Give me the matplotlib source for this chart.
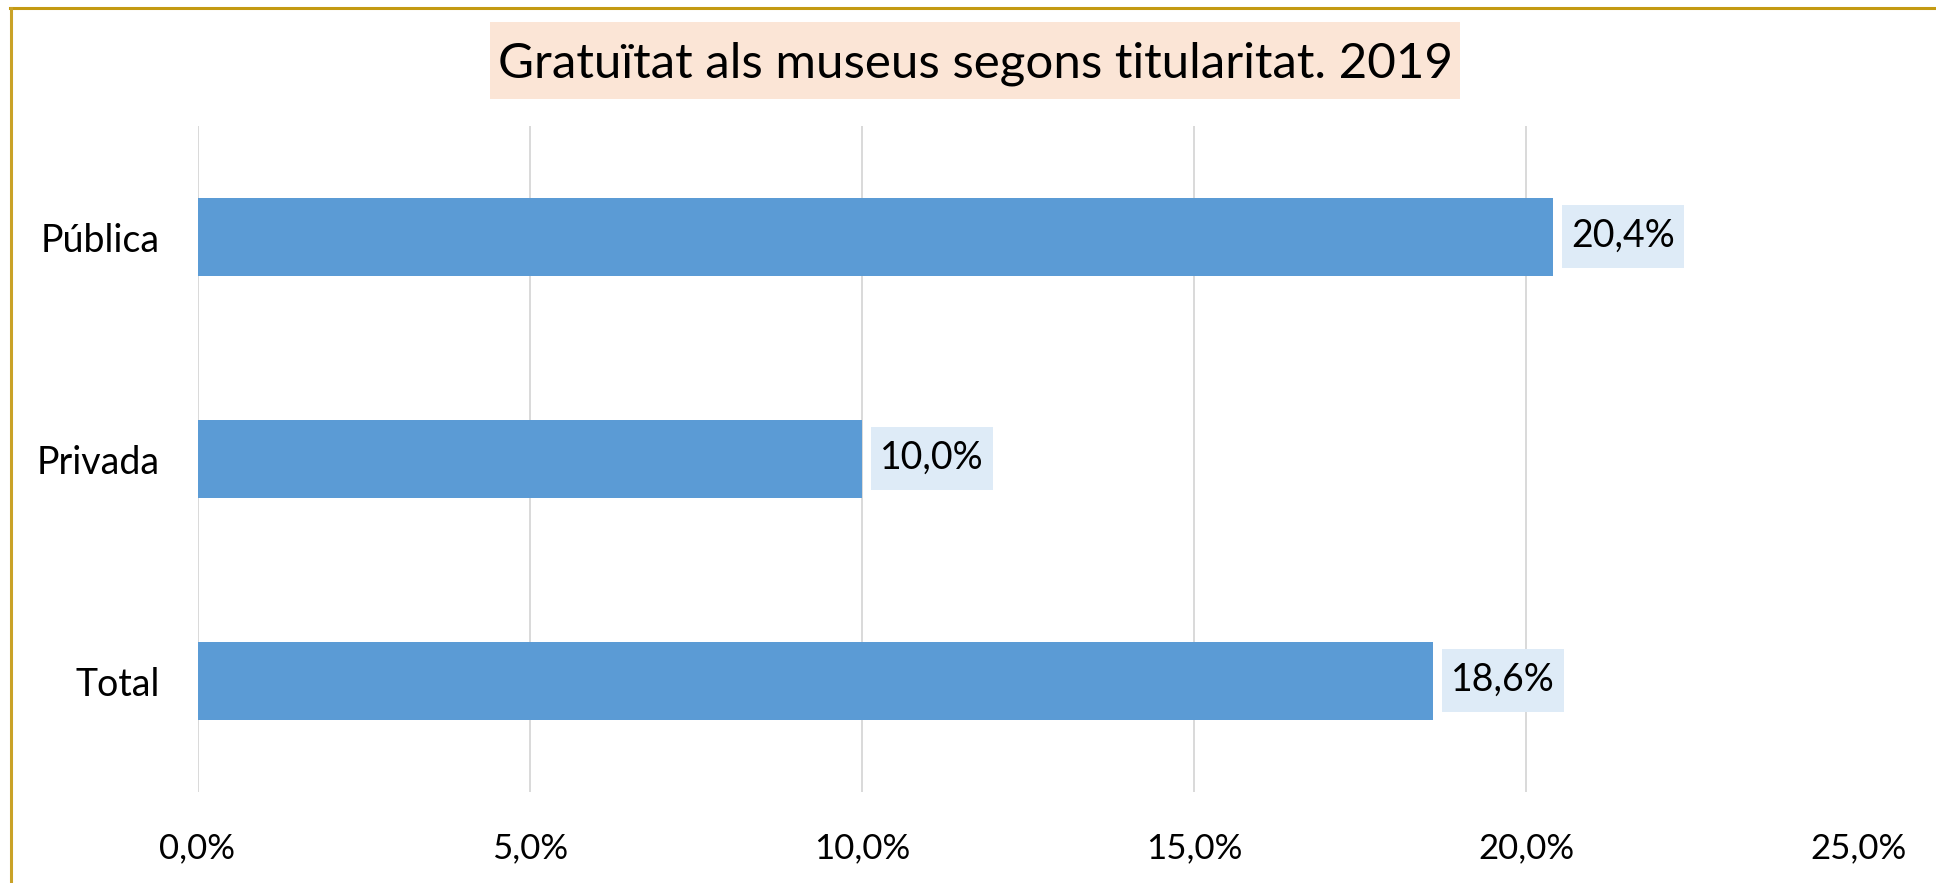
import matplotlib
matplotlib.use("Agg")
import matplotlib.pyplot as plt
from matplotlib.patches import Rectangle
from matplotlib.lines import Line2D
from matplotlib.path import Path

categories = ["Pública", "Privada", "Total"]
values = [20.4, 10.0, 18.6]
value_labels = ["20,4%", "10,0%", "18,6%"]
xticks = [0, 5, 10, 15, 20, 25]
xtick_labels = ["0,0%", "5,0%", "10,0%", "15,0%", "20,0%", "25,0%"]
title = "Gratuïtat als museus segons titularitat. 2019"

W, H = 1936, 883
DPI = 100
plt.rcParams['font.family'] = ['Lato', 'DejaVu Sans']

fig = plt.figure(figsize=(W / DPI, H / DPI), dpi=DPI)
fig.patch.set_facecolor("white")

def fx(px):
    return px / W

def fy(py):
    return 1 - py / H

ax_l, ax_r, ax_t, ax_b = 197.5, 1858.5, 126, 792
ax = fig.add_axes([fx(ax_l), fy(ax_b), fx(ax_r - ax_l), (ax_b - ax_t) / H])

ypos = list(range(len(categories)))
ax.barh(ypos, values, height=0.35, color="#5B9BD5", zorder=3)
ax.set_xlim(0, 25)
ax.set_ylim(len(categories) - 0.5, -0.5)
ax.set_xticks(xticks)
ax.set_xticklabels(xtick_labels)
ax.set_yticks(ypos)
ax.set_yticklabels(categories)
ax.grid(axis="x", color="#D9D9D9", linewidth=1.4, zorder=0)
ax.set_axisbelow(True)
for s in ax.spines.values():
    s.set_visible(False)
ax.tick_params(axis="x", length=0, labelsize=25, colors="black", pad=29)
ax.tick_params(axis="y", length=0, labelsize=27, colors="black", pad=27)


def label_box(x0, y0, width, height, mutation_size, padx=0.25, pady=0.36):
    px = padx * mutation_size
    py = pady * mutation_size
    x0, y0 = x0 - px, y0 - py
    x1, y1 = x0 + width + 2 * px, y0 + height + 2 * py
    return Path([(x0, y0), (x1, y0), (x1, y1), (x0, y1), (x0, y0)],
                closed=True)


for y, v, lab in zip(ypos, values, value_labels):
    ax.annotate(lab, xy=(v, y), xytext=(18 * 72 / DPI, 1 * 72 / DPI),
                textcoords="offset points",
                va="center", ha="left", fontsize=27, color="black", zorder=4,
                bbox=dict(boxstyle=label_box, fc="#DEEBF7", ec="none"))

# title box
fig.patches.append(Rectangle((fx(490), fy(99)), fx(1460 - 490), (99 - 22) / H,
                             transform=fig.transFigure, facecolor="#FBE5D6",
                             edgecolor="none", zorder=1))
fig.text(fx(975), fy(64), title, ha="center", va="center", fontsize=35.5,
         color="black", zorder=2)

# border (golden)
fig.lines.append(Line2D([fx(10), 1.0], [fy(8), fy(8)], transform=fig.transFigure,
                        color="#C49A12", linewidth=2.2))
fig.lines.append(Line2D([fx(11), fx(11)], [fy(8), 0.0], transform=fig.transFigure,
                        color="#C9A227", linewidth=2.2))

fig.savefig("out.png", dpi=DPI)
